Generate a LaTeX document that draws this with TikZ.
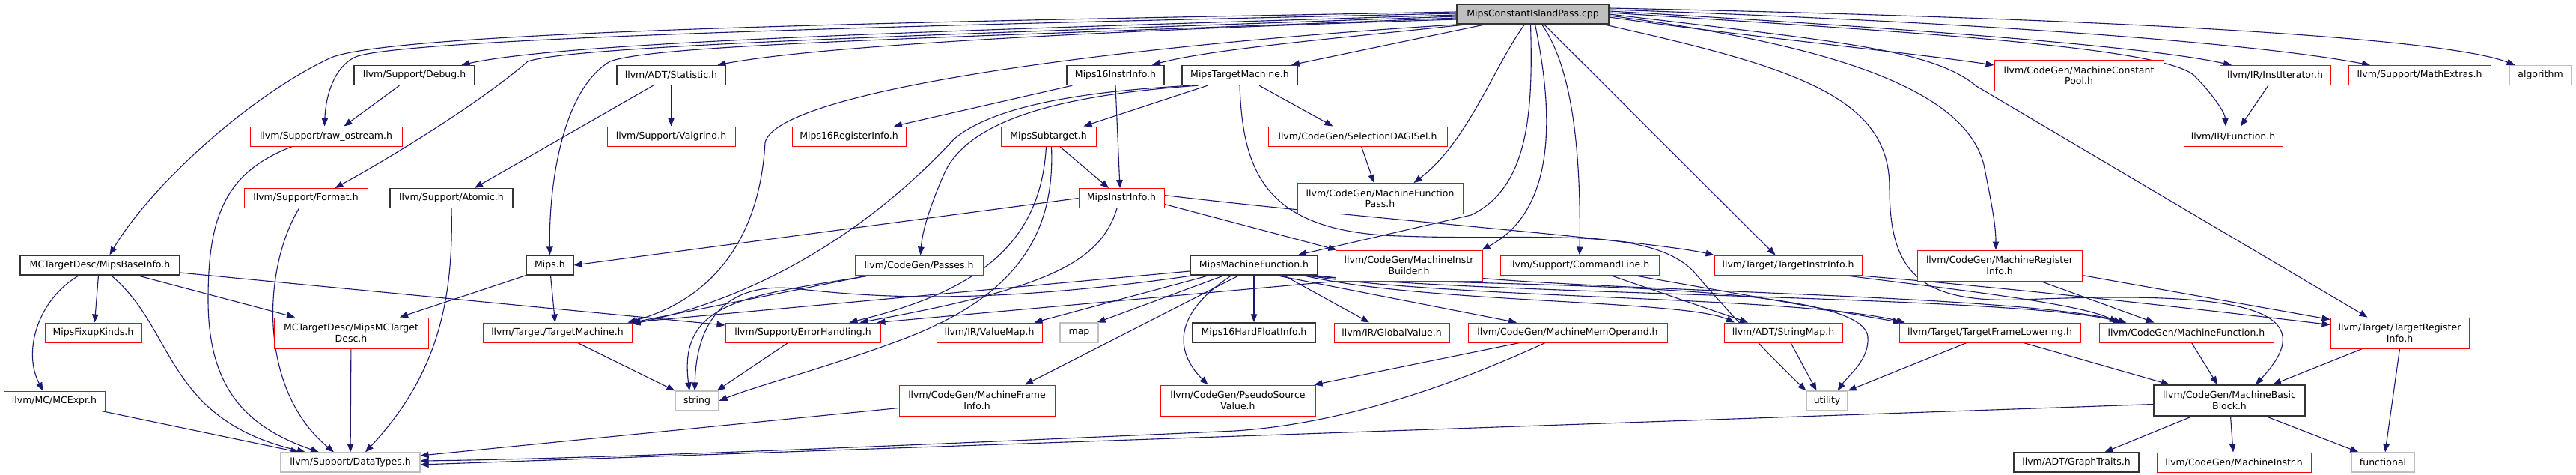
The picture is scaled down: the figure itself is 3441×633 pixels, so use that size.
\documentclass[tikz,border=0pt]{standalone}
\usepackage{fontspec}
\setmainfont{DejaVu Sans}
\usetikzlibrary{arrows.meta,calc,backgrounds}
\definecolor{edgecol}{HTML}{191970}
\definecolor{grayb}{HTML}{BFBFBF}
\definecolor{blkb}{HTML}{333333}
\newcommand\nfont{\fontsize{12.5pt}{14.5pt}\selectfont}
\begin{document}
\begin{tikzpicture}[x=1pt,y=-1pt,
  nd/.style={draw, rectangle, inner sep=0pt, font=\nfont, align=center, text=black, fill=white, line width=1pt},
  blk/.style={nd, draw=blkb, line width=1.4pt},
  rd/.style={nd, draw=red},
  gy/.style={nd, draw=grayb, line width=1.2pt},
  rt/.style={nd, draw=blkb, fill=grayb, line width=1.4pt},
  dep/.style={draw=edgecol, line width=1.1pt, -{Triangle[length=11pt,width=8.5pt]}},
  one/.style={minimum height=26pt},
  two/.style={minimum height=41pt}]
\useasboundingbox (0,0) rectangle (3441,633);
% ---------- nodes ----------
\node[rt,one,minimum width=203pt] (root) at (2047.5,19) {MipsConstantIslandPass.cpp};
% row 2
\node[blk,one,minimum width=161pt] (debug) at (553.5,100.5) {llvm/Support/Debug.h};
\node[blk,one,minimum width=145pt] (stat) at (896.5,100.5) {llvm/ADT/Statistic.h};
\node[blk,one,minimum width=130pt] (m16ii) at (1490,100.5) {Mips16InstrInfo.h};
\node[blk,one,minimum width=154pt] (mtm) at (1656,100.5) {MipsTargetMachine.h};
\node[rd,two,minimum width=226pt] (mcp) at (2777,101) {llvm/CodeGen/MachineConstant\\Pool.h};
\node[rd,one,minimum width=148pt] (instit) at (3039,100.5) {llvm/IR/InstIterator.h};
\node[rd,one,minimum width=190pt] (mathx) at (3232,100.5) {llvm/Support/MathExtras.h};
\node[gy,one,minimum width=83pt] (algo) at (3393.5,100.5) {algorithm};
% row 3
\node[rd,one,minimum width=203pt] (rawos) at (435.5,182) {llvm/Support/raw\_ostream.h};
\node[rd,one,minimum width=171pt] (valg) at (896.5,182) {llvm/Support/Valgrind.h};
\node[rd,one,minimum width=152pt] (m16ri) at (1134,182) {Mips16RegisterInfo.h};
\node[rd,one,minimum width=127pt] (msub) at (1400.5,182) {MipsSubtarget.h};
\node[rd,one,minimum width=239pt] (seldag) at (1813.5,182) {llvm/CodeGen/SelectionDAGISel.h};
\node[rd,one,minimum width=132pt] (func) at (2983,182) {llvm/IR/Function.h};
% row 4
\node[rd,one,minimum width=165pt] (format) at (408.5,264.5) {llvm/Support/Format.h};
\node[blk,one,minimum width=164pt] (atomic) at (603,264.5) {llvm/Support/Atomic.h};
\node[rd,one,minimum width=114pt] (mii) at (1498,264.5) {MipsInstrInfo.h};
\node[rd,two,minimum width=221pt] (mfpass) at (1843.5,265) {llvm/CodeGen/MachineFunction\\Pass.h};
% row 5
\node[blk,one,minimum width=213pt] (baseinfo) at (133.5,354) {MCTargetDesc/MipsBaseInfo.h};
\node[blk,one,minimum width=63pt] (mipsh) at (734.5,354) {Mips.h};
\node[rd,one,minimum width=171pt] (passes) at (1227.5,354) {llvm/CodeGen/Passes.h};
\node[blk,one,minimum width=170pt] (mmf) at (1675,354) {MipsMachineFunction.h};
\node[rd,two,minimum width=196pt] (mib) at (1882,354.5) {llvm/CodeGen/MachineInstr\\Builder.h};
\node[rd,one,minimum width=212pt] (cmdline) at (2110,354) {llvm/Support/CommandLine.h};
\node[rd,one,minimum width=197pt] (tii) at (2388.5,354) {llvm/Target/TargetInstrInfo.h};
\node[rd,two,minimum width=220pt] (mri) at (2671,354.5) {llvm/CodeGen/MachineRegister\\Info.h};
% row 6
\node[rd,one,minimum width=129pt] (fixup) at (124.5,444) {MipsFixupKinds.h};
\node[rd,two,minimum width=206pt] (mcdesc) at (469,444.5) {MCTargetDesc/MipsMCTarget\\Desc.h};
\node[rd,one,minimum width=199pt] (tm) at (744.5,444) {llvm/Target/TargetMachine.h};
\node[rd,one,minimum width=207pt] (errh) at (1072.5,444) {llvm/Support/ErrorHandling.h};
\node[rd,one,minimum width=141pt] (vmap) at (1321.5,444) {llvm/IR/ValueMap.h};
\node[gy,one,minimum width=51pt] (map) at (1441.5,444) {map};
\node[blk,one,minimum width=164pt] (m16hf) at (1675,444) {Mips16HardFloatInfo.h};
\node[rd,one,minimum width=154pt] (gval) at (1859,444) {llvm/IR/GlobalValue.h};
\node[rd,one,minimum width=266pt] (mmo) at (2094,444) {llvm/CodeGen/MachineMemOperand.h};
\node[rd,one,minimum width=158pt] (smap) at (2382,444) {llvm/ADT/StringMap.h};
\node[rd,one,minimum width=242pt] (tfl) at (2658,444) {llvm/Target/TargetFrameLowering.h};
\node[rd,one,minimum width=233pt] (mf) at (2920.5,444) {llvm/CodeGen/MachineFunction.h};
\node[rd,two,minimum width=185pt] (tri) at (3205.5,444.5) {llvm/Target/TargetRegister\\Info.h};
% row 7
\node[rd,one,minimum width=135pt] (mcexpr) at (72.5,535) {llvm/MC/MCExpr.h};
\node[gy,one,minimum width=58pt] (string) at (931,535) {string};
\node[rd,two,minimum width=208pt] (mfi) at (1305,534.5) {llvm/CodeGen/MachineFrame\\Info.h};
\node[rd,two,minimum width=207pt] (psv) at (1653.5,534.5) {llvm/CodeGen/PseudoSource\\Value.h};
\node[gy,one,minimum width=55pt] (utility) at (2440.5,535) {utility};
\node[blk,two,minimum width=202pt] (mbb) at (2978,534.5) {llvm/CodeGen/MachineBasic\\Block.h};
% row 8
\node[gy,one,minimum width=186pt] (datatypes) at (468,617) {llvm/Support/DataTypes.h};
\node[blk,one,minimum width=167pt] (graph) at (2773.5,617) {llvm/ADT/GraphTraits.h};
\node[rd,one,minimum width=206pt] (minstr) at (2984,617) {llvm/CodeGen/MachineInstr.h};
\node[gy,one,minimum width=84pt] (functional) at (3183,617) {functional};
% ---------- edges ----------
\begin{scope}[on background layer]
\fill[white] (0,0) rectangle (3441,633);
% from root
\draw[dep] ($(root.west)+(0,-3)$) .. controls (1300,28) and (520,40) .. (440,78) .. controls (330,130) and (200,250) .. ($(baseinfo.north)+(13,0)$);
\draw[dep] ($(root.west)+(0,-1)$) .. controls (1300,32) and (540,50) .. (475,76) .. controls (445,90) and (435,130) .. ($(rawos.north)+(-2,0)$);
\draw[dep] ($(root.west)+(0,1)$) .. controls (1300,40) and (760,55) .. ($(debug.north)+(63,0)$);
\draw[dep] ($(root.west)+(0,3)$) .. controls (1300,45) and (770,60) .. (705,82) .. controls (650,130) and (540,200) .. ($(format.north)+(39,0)$);
\draw[dep] ($(root.west)+(0,5)$) .. controls (1300,50) and (880,58) .. (815,82) .. controls (750,120) and (733,250) .. (mipsh.north);
\draw[dep] ($(root.west)+(0,7)$) .. controls (1500,40) and (1100,60) .. ($(stat.north)+(62,0)$);
\draw[dep] ($(root.south west)+(5,0)$) .. controls (1500,60) and (1040,120) .. (1022,190) .. controls (1015,320) and (950,400) .. ($(tm.north east)+(-6,0)$);
\draw[dep] ($(root.south west)+(15,0)$) .. controls (1800,50) and (1620,65) .. ($(m16ii.north)+(49,0)$);
\draw[dep] ($(root.south)+(-63,0)$) -- ($(mtm.north)+(69,0)$);
\draw[dep] ($(root.south)+(-11,0)$) .. controls (1995,90) and (1960,190) .. ($(mfpass.north)+(45,0)$);
\draw[dep] ($(root.south)+(-3,0)$) .. controls (2048,150) and (2042,250) .. (1965,287) -- ($(mmf.north)+(59,0)$);
\draw[dep] ($(root.south)+(3,0)$) .. controls (2075,150) and (2080,280) .. ($(mib.north east)+(-1,0)$);
\draw[dep] ($(root.south)+(12,0)$) .. controls (2100,90) and (2112,200) .. (cmdline.north);
\draw[dep] ($(root.south)+(15,0)$) -- ($(tii.north)+(-17,0)$);
\draw[dep] ($(root.south east)+(-8,0)$) .. controls (2400,90) and (2524,130) .. (2524,250) .. controls (2524,360) and (2560,405) .. (2700,400) .. controls (2950,390) and (3120,400) .. ($(mbb.north)+(35,0)$);
\draw[dep] ($(root.east)+(0,2)$) .. controls (2450,60) and (2625,120) .. (2650,220) .. controls (2660,270) and (2666,300) .. ($(mri.north)+(-5,0)$);
\draw[dep] (root.east) .. controls (2450,55) and (2580,65) .. (2640,115) -- ($(tri.north)+(-43,0)$);
\draw[dep] ($(root.east)+(0,4)$) .. controls (2300,45) and (2550,70) .. ($(mcp.west)+(0,-14)$);
\draw[dep] ($(root.east)+(0,-2)$) .. controls (2500,40) and (2880,60) .. (2930,100) .. controls (2955,125) and (2972,150) .. ($(func.north)+(-10,0)$);
\draw[dep] ($(root.east)+(0,-4)$) .. controls (2500,35) and (2860,60) .. ($(instit.north)+(-58,0)$);
\draw[dep] ($(root.east)+(0,-6)$) .. controls (2600,28) and (3000,55) .. ($(mathx.north)+(-66,0)$);
\draw[dep] ($(root.east)+(0,-8)$) .. controls (2700,22) and (3250,45) .. ($(algo.north)+(-34,0)$);
% second level
\draw[dep] ($(debug.south)+(-20,0)$) -- ($(rawos.north)+(24,0)$);
\draw[dep] ($(stat.south)+(-24,0)$) -- ($(atomic.north)+(31,0)$);
\draw[dep] (stat) -- (valg);
\draw[dep] ($(rawos.south)+(-45,0)$) .. controls (300,230) and (278,290) .. (278,400) .. controls (278,520) and (330,570) .. ($(datatypes.north)+(-42,0)$);
\draw[dep] ($(format.south)+(-9,0)$) .. controls (350,360) and (345,520) .. ($(datatypes.north)+(-22,0)$);
\draw[dep] (atomic.south) .. controls (606,400) and (585,500) .. ($(datatypes.north)+(20,0)$);
\draw[dep] ($(m16ii.south west)+(8,0)$) -- ($(m16ri.north)+(60,0)$);
\draw[dep] (m16ii.south) -- ($(mii.north)+(-2,0)$);
\draw[dep] ($(mtm.south)+(-43,0)$) -- ($(msub.north)+(47,0)$);
\draw[dep] ($(mtm.south)+(26,0)$) -- ($(seldag.north)+(-33,0)$);
\draw[dep] ($(mtm.south west)+(22,0)$) .. controls (1450,125) and (1300,150) .. (1262,230) .. controls (1240,280) and (1232,310) .. ($(passes.north)+(2,0)$);
\draw[dep] ($(mtm.south west)+(12,0)$) .. controls (1450,122) and (1330,140) .. (1275,185) .. controls (1150,320) and (1000,400) .. ($(tm.north east)+(0,2)$);
\draw[dep] (mtm.south) .. controls (1660,230) and (1690,310) .. (1870,315) .. controls (2050,322) and (2200,300) .. (2262,362) .. controls (2320,430) and (2370,480) .. (utility.north west);
\draw[dep] ($(seldag.south)+(5,0)$) -- ($(mfpass.north)+(-8,0)$);
\draw[dep] ($(msub.south)+(15,0)$) -- ($(mii.north)+(-17,0)$);
\draw[dep] ($(msub.south)+(-3,0)$) .. controls (1390,330) and (1300,390) .. ($(errh.north)+(62,0)$);
\draw[dep] ($(msub.south)+(4,0)$) .. controls (1410,320) and (1350,400) .. (1200,455) .. controls (1100,492) and (1010,515) .. (string.east);
\draw[dep] (mii.west) -- (mipsh.east);
\draw[dep] ($(mii.east)+(0,-4)$) .. controls (1800,290) and (2200,320) .. (tii.north west);
\draw[dep] ($(mii.east)+(0,8)$) -- ($(mib.north west)+(2,0)$);
\draw[dep] ($(mii.south)+(-6,0)$) .. controls (1470,350) and (1400,385) .. ($(errh.north)+(76,0)$);
\draw[dep] (mipsh.south west) -- ($(mcdesc.north)+(65,0)$);
\draw[dep] ($(mipsh.south)+(1,0)$) -- ($(tm.north)+(-3,0)$);
\draw[dep] ($(baseinfo.south)+(-28,0)$) .. controls (50,400) and (30,470) .. ($(mcexpr.north)+(-15,0)$);
\draw[dep] ($(baseinfo.south)+(-2,0)$) -- ($(fixup.north)+(2,0)$);
\draw[dep] ($(baseinfo.south)+(15,0)$) .. controls (235,440) and (220,560) .. ($(datatypes.north)+(-60,0)$);
\draw[dep] ($(baseinfo.south)+(50,0)$) -- ($(mcdesc.north)+(-75,0)$);
\draw[dep] ($(baseinfo.east)+(0,10)$) -- ($(errh.west)+(0,-10)$);
\draw[dep] (mcdesc) -- (datatypes);
\draw[dep] ($(mcexpr.south east)+(-5,0)$) -- ($(datatypes.north west)+(25,0)$);
\draw[dep] ($(tm.south)+(27,0)$) -- (string.north west);
\draw[dep] ($(passes.south west)+(20,0)$) -- (tm.north east);
\draw[dep] ($(passes.south west)+(22,0)$) .. controls (1000,395) and (905,400) .. ($(string.north)+(-10,0)$);
\draw[dep] ($(errh.south)+(-20,0)$) -- ($(string.north east)+(-3,0)$);
\draw[dep] (mib.south west) -- ($(errh.north east)+(-5,0)$);
\draw[dep] ($(mib.south east)+(0,-4)$) .. controls (2200,390) and (2700,395) .. ($(mf.north)+(-80,0)$);
% MipsMachineFunction.h
\draw[dep] ($(mmf.west)+(0,8)$) -- ($(tm.north east)+(-4,0)$);
\draw[dep] ($(mmf.south west)+(5,0)$) .. controls (1300,410) and (1150,395) .. (1060,385) .. controls (960,376) and (930,440) .. ($(string.north)+(-3,0)$);
\draw[dep] ($(mmf.south)+(-60,0)$) -- ($(vmap.north)+(60,0)$);
\draw[dep] ($(mmf.south)+(-40,0)$) -- ($(map.north east)+(-2,0)$);
\draw[dep] (mmf) -- (m16hf);
\draw[dep] ($(mmf.south)+(40,0)$) -- ($(gval.north)+(-30,0)$);
\draw[dep] ($(mmf.south)+(30,0)$) -- ($(mmo.north)+(-68,0)$);
\draw[dep] ($(mmf.south)+(-20,0)$) -- ($(mfi.north)+(64,0)$);
\draw[dep] ($(mmf.south)+(-30,0)$) .. controls (1565,420) and (1570,470) .. ($(psv.north)+(-40,0)$);
\draw[dep] ($(mmf.south east)+(-20,0)$) .. controls (1900,405) and (2250,400) .. ($(smap.north)+(-65,0)$);
\draw[dep] ($(mmf.south east)+(-15,0)$) .. controls (1950,400) and (2400,395) .. ($(tfl.north west)+(8,0)$);
\draw[dep] ($(mmf.south east)+(-5,0)$) .. controls (2000,395) and (2700,395) .. ($(mf.north)+(-86,0)$);
\draw[dep] ($(mmf.south east)+(-25,0)$) .. controls (1950,385) and (2490,370) .. (2495,450) .. controls (2497,480) and (2470,500) .. ($(utility.north)+(14,0)$);
% lower levels
\draw[dep] ($(mmo.south)+(-30,0)$) .. controls (1950,510) and (1800,565) .. (1650,575) .. controls (1200,595) and (800,612) .. ($(datatypes.east)+(0,-2)$);
\draw[dep] ($(mmo.south)+(-64,0)$) -- ($(psv.north east)+(-2,0)$);
\draw[dep] ($(mfi.west)+(0,10)$) -- ($(datatypes.east)+(0,-9)$);
\draw[dep] ($(mbb.west)+(0,5)$) -- ($(datatypes.east)+(0,3)$);
\draw[dep] ($(cmdline.south)+(41,0)$) -- ($(smap.north)+(-47,0)$);
\draw[dep] ($(cmdline.south)+(72,0)$) -- ($(tfl.north west)+(3,0)$);
\draw[dep] ($(tii.south east)+(-25,0)$) .. controls (2600,385) and (2780,405) .. ($(mf.north)+(-92,0)$);
\draw[dep] ($(tii.south east)+(-10,0)$) .. controls (2700,385) and (3000,420) .. ($(tri.west)+(0,-11)$);
\draw[dep] ($(mri.south)+(55,0)$) -- ($(mf.north)+(-43,0)$);
\draw[dep] ($(mri.east)+(0,13)$) -- ($(tri.north west)+(0,3)$);
\draw[dep] ($(tfl.south)+(45,0)$) -- ($(mbb.north)+(-80,0)$);
\draw[dep] ($(tfl.south)+(-31,0)$) -- (utility.north east);
\draw[dep] ($(smap.south)+(10,0)$) -- ($(utility.north)+(-14,0)$);
\draw[dep] ($(mf.south)+(7,0)$) -- ($(mbb.north)+(-16,0)$);
\draw[dep] ($(tri.south)+(-50,0)$) -- ($(mbb.north)+(58,0)$);
\draw[dep] (tri.south) -- ($(functional.north)+(3,0)$);
\draw[dep] ($(mbb.south)+(-50,0)$) -- ($(graph.north)+(38,0)$);
\draw[dep] (mbb) -- (minstr);
\draw[dep] ($(mbb.south)+(49,0)$) -- ($(functional.north west)+(10,0)$);
\draw[dep] ($(instit.south)+(-9,0)$) -- ($(func.north)+(10,0)$);
\end{scope}
\end{tikzpicture}
\end{document}
